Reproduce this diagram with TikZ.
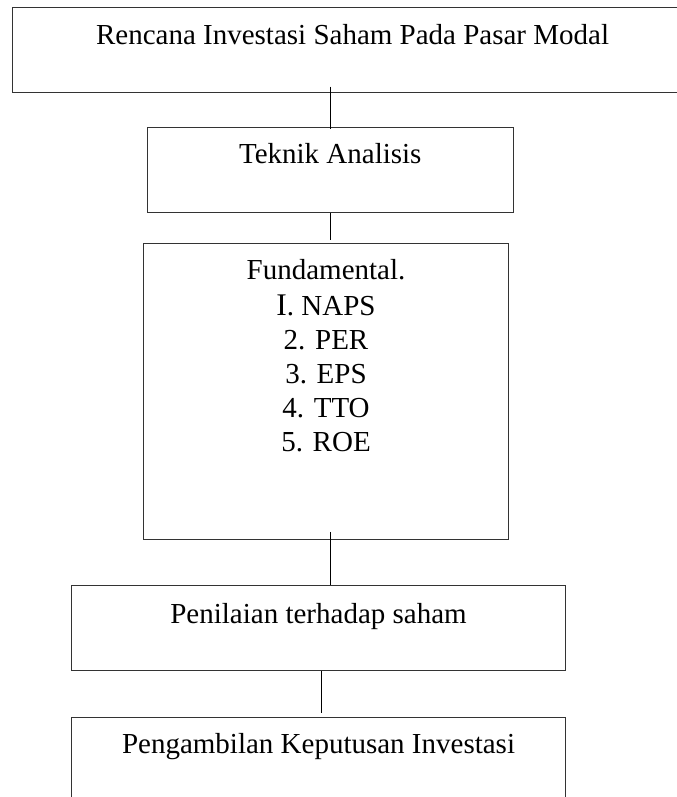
\documentclass[tikz,border=0pt]{standalone}
\usepackage{fontspec}
\setmainfont{Liberation Serif}

\tikzset{
  box/.style={draw=black!80, line width=0.45pt, inner sep=0pt, anchor=north west},
  lbl/.style={anchor=base, inner sep=0pt},
  link/.style={line width=0.55pt},
}

\begin{document}
\begin{tikzpicture}[x=0.4pt, y=-0.4pt, font=\fontsize{11.6}{13.6}\selectfont]
  \useasboundingbox (0,0) rectangle (676,797);
  % boxes
  \node[box, minimum width=272pt, minimum height=34pt] (rencana) at (12,7) {};
  \node[box, minimum width=146.4pt, minimum height=34pt] (teknik) at (146.7,127) {};
  \node[box, minimum width=146.2pt, minimum height=118.4pt] (fund) at (142.7,243) {};
  \node[box, minimum width=197.8pt, minimum height=34pt] (penilaian) at (70.7,585) {};
  \node[box, minimum width=197.8pt, minimum height=34pt] (keputusan) at (70.7,716.7) {};
  % texts (base of a multi-line node = its last line)
  \node[lbl] (t-rencana) at ([yshift=-15.2pt]rencana.north) {Rencana Investasi Saham Pada Pasar Modal};
  \node[lbl] (t-teknik) at ([yshift=-14.7pt]teknik.north) {Teknik Analisis};
  \node[lbl, align=center] (t-fund) at ([yshift=-83.5pt]fund.north)
    {Fundamental.\\[0.8pt]{\fontsize{12.6}{13.6}\selectfont I}. NAPS\\2. PER\\3. EPS\\4. TTO\\5. ROE};
  \node[lbl] (t-penilaian) at ([yshift=-15.3pt]penilaian.north) {Penilaian terhadap saham};
  \node[lbl] (t-keputusan) at ([yshift=-14.9pt]keputusan.north) {Pengambilan Keputusan Investasi};
  % connectors
  \draw[link] (teknik.north |- rencana.south) ++(0,-6.5) -- ([yshift=-1pt]teknik.north);
  \draw[link] (teknik.south) -- ([yshift=1.2pt]teknik.south |- fund.north);
  \draw[link] (teknik.south |- fund.south) ++(0,-8.3) -- (teknik.south |- penilaian.north);
  \draw[link] ([xshift=1.1pt]penilaian.south) -- ([xshift=1.1pt,yshift=1.6pt]keputusan.north);
\end{tikzpicture}
\end{document}
